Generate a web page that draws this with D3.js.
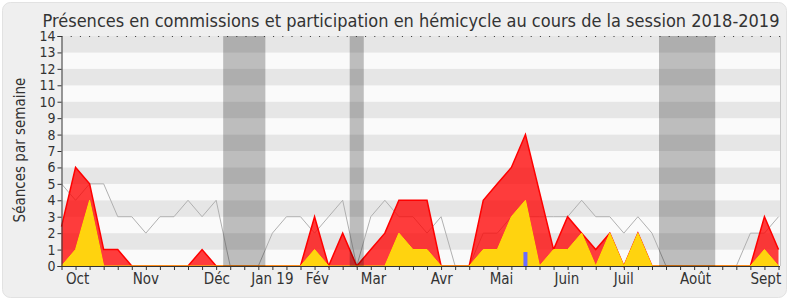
<!DOCTYPE html>
<html>
<head>
<meta charset="utf-8">
<style>
    body { margin: 0; background: #fff; }
    svg text {
        font-family: "DejaVu Sans Condensed", "DejaVu Sans", sans-serif;
        font-stretch: condensed;
        fill: #333;
    }
</style>
</head>
<body>
<svg id="chart" width="790" height="300"></svg>
<script src="https://cdn.jsdelivr.net/npm/d3@7"></script>
<script>
    const title = "Présences en commissions et participation en hémicycle au cours de la session 2018-2019";
    const yLabel = "Séances par semaine";

    // one value per week, 52 weeks
    const commissions = [2.4, 6, 5, 1, 1, 0, 0, 0, 0, 0, 1, 0, 0, 0, 0, 0, 0, 0, 3, 0,
        2, 0, 1, 2, 4, 4, 4, 0, 0, 0, 4, 5, 6, 8, 4.5, 1, 3, 2, 1, 2,
        0, 2, 0, 0, 0, 0, 0, 0, 0, 0, 3, 1];
    const hemicycle = [0, 1, 4, 0, 0, 0, 0, 0, 0, 0, 0, 0, 0, 0, 0, 0, 0, 0, 1, 0,
        0, 0, 0, 0, 2, 1, 1, 0, 0, 0, 1, 1, 3, 4, 0, 1, 1, 2, 0, 2,
        0, 2, 0, 0, 0, 0, 0, 0, 0, 0, 1, 0];
    const mediane = [5, 4, 5, 5, 3, 3, 2, 3, 3, 4, 3, 4, 0, 0, 0, 2, 3, 3, 2, 3,
        4, 0, 3, 4, 3, 3, 2, 3, 0, 0, 2, 2, 3, 3, 3, 3, 3, 4, 3, 3,
        2, 3, 2, 0, 0, 0, 0, 0, 0, 2, 2, 3];
    const questionsWeeks = [33];
    const questionsValues = [0.85];
    const vacances = [[11.5, 14.5], [20.5, 21.5], [42.5, 46.5]];
    const mois = ["Oct", "Nov", "Déc", "Jan 19", "Fév", "Mar", "Avr", "Mai", "Juin", "Juil", "Août", "Sept"];
    const moisSemaine = [1.15, 6, 11.05, 15, 18.2, 22.2, 27.05, 31.3, 35.95, 40, 45.1, 50.1];
    const yMax = 14;

    const mLeft = 61.5, mRight = 780, mTop = 36, mBottom = 266;
    const svg = d3.select("#chart");

    svg.append("rect").attr("x", 2.5).attr("y", 2.5).attr("width", 784).attr("height", 295)
        .attr("rx", 8).attr("fill", "#efefef").attr("stroke", "#e2e2e2");

    const x = d3.scaleLinear().domain([0, commissions.length - 1]).range([mLeft, mRight - 1.5]);
    const y = d3.scaleLinear().domain([0, yMax]).range([mBottom, mTop]);

    // stripes
    svg.append("g").selectAll("rect").data(d3.range(yMax)).enter().append("rect")
        .attr("x", mLeft).attr("width", mRight - mLeft)
        .attr("y", d => y(d + 1)).attr("height", d => y(d) - y(d + 1))
        .attr("fill", d => d % 2 ? "#e6e6e6" : "#fafafa");

    // median line
    svg.append("path").datum(mediane)
        .attr("fill", "none").attr("stroke", "#b0b0b0").attr("stroke-width", 1)
        .attr("d", d3.line().x((d, i) => x(i)).y(d => y(d)));

    const area = d3.area().x((d, i) => x(i)).y0(y(0)).y1(d => y(d));
    const line = d3.line().x((d, i) => x(i)).y(d => y(d));

    svg.append("path").datum(commissions)
        .attr("fill", "#ff0000").attr("fill-opacity", 0.76).attr("d", area);
    svg.append("path").datum(commissions)
        .attr("fill", "none").attr("stroke", "#ff0000").attr("stroke-width", 1.5).attr("d", line);

    svg.append("path").datum(hemicycle)
        .attr("fill", "#ffd30f").attr("d", area);
    svg.append("path").datum(hemicycle)
        .attr("fill", "none").attr("stroke", "#ffe000").attr("stroke-width", 1).attr("d", line);

    // questions
    svg.append("g").selectAll("rect").data(questionsWeeks).enter().append("rect")
        .attr("x", d => x(d) - 2).attr("width", 4)
        .attr("y", (d, i) => y(questionsValues[i]))
        .attr("height", (d, i) => y(0) - y(questionsValues[i]))
        .attr("fill", "#6b6bff");

    // vacations
    svg.append("g").selectAll("rect").data(vacances).enter().append("rect")
        .attr("x", d => x(d[0])).attr("width", d => x(d[1]) - x(d[0]))
        .attr("y", mTop).attr("height", mBottom - mTop)
        .attr("fill", "#000").attr("fill-opacity", 0.245);

    // top dotted line
    svg.append("line").attr("x1", mLeft).attr("x2", mRight).attr("y1", mTop + 0.5).attr("y2", mTop + 0.5)
        .attr("stroke", "#333").attr("stroke-dasharray", "1,8.2");
    // right frame
    svg.append("line").attr("x1", mRight + 0.5).attr("x2", mRight + 0.5).attr("y1", mTop).attr("y2", mBottom)
        .attr("stroke", "#c8c8c8");

    // axes
    const yAxis = svg.append("g").attr("transform", `translate(${mLeft},0)`)
        .call(d3.axisLeft(y).ticks(yMax).tickSize(4).tickPadding(2));
    yAxis.select(".domain").attr("stroke", "#333");
    yAxis.selectAll(".tick line").attr("stroke", "#333");
    yAxis.selectAll("text").attr("font-size", 14).attr("font-family", null);

    const xAxis = svg.append("g").attr("transform", `translate(0,${mBottom})`)
        .call(d3.axisBottom(x).tickValues(d3.range(commissions.length)).tickFormat("").tickSize(4).tickSizeOuter(0));
    xAxis.select(".domain").attr("stroke", "#333").attr("d", `M${mLeft},0.5H${mRight}`);
    xAxis.selectAll(".tick line").attr("stroke", "#333");

    svg.append("g").selectAll("text").data(mois).enter().append("text")
        .attr("x", (d, i) => x(moisSemaine[i])).attr("y", 284)
        .attr("text-anchor", "middle").attr("font-size", 15)
        .text(d => d);

    svg.append("text").attr("x", 411).attr("y", 26.5).attr("text-anchor", "middle")
        .attr("font-size", 18).text(title);

    svg.append("text").attr("transform", "translate(25,150) rotate(-90)")
        .attr("text-anchor", "middle").attr("font-size", 15).text(yLabel);
</script>
</body>
</html>
